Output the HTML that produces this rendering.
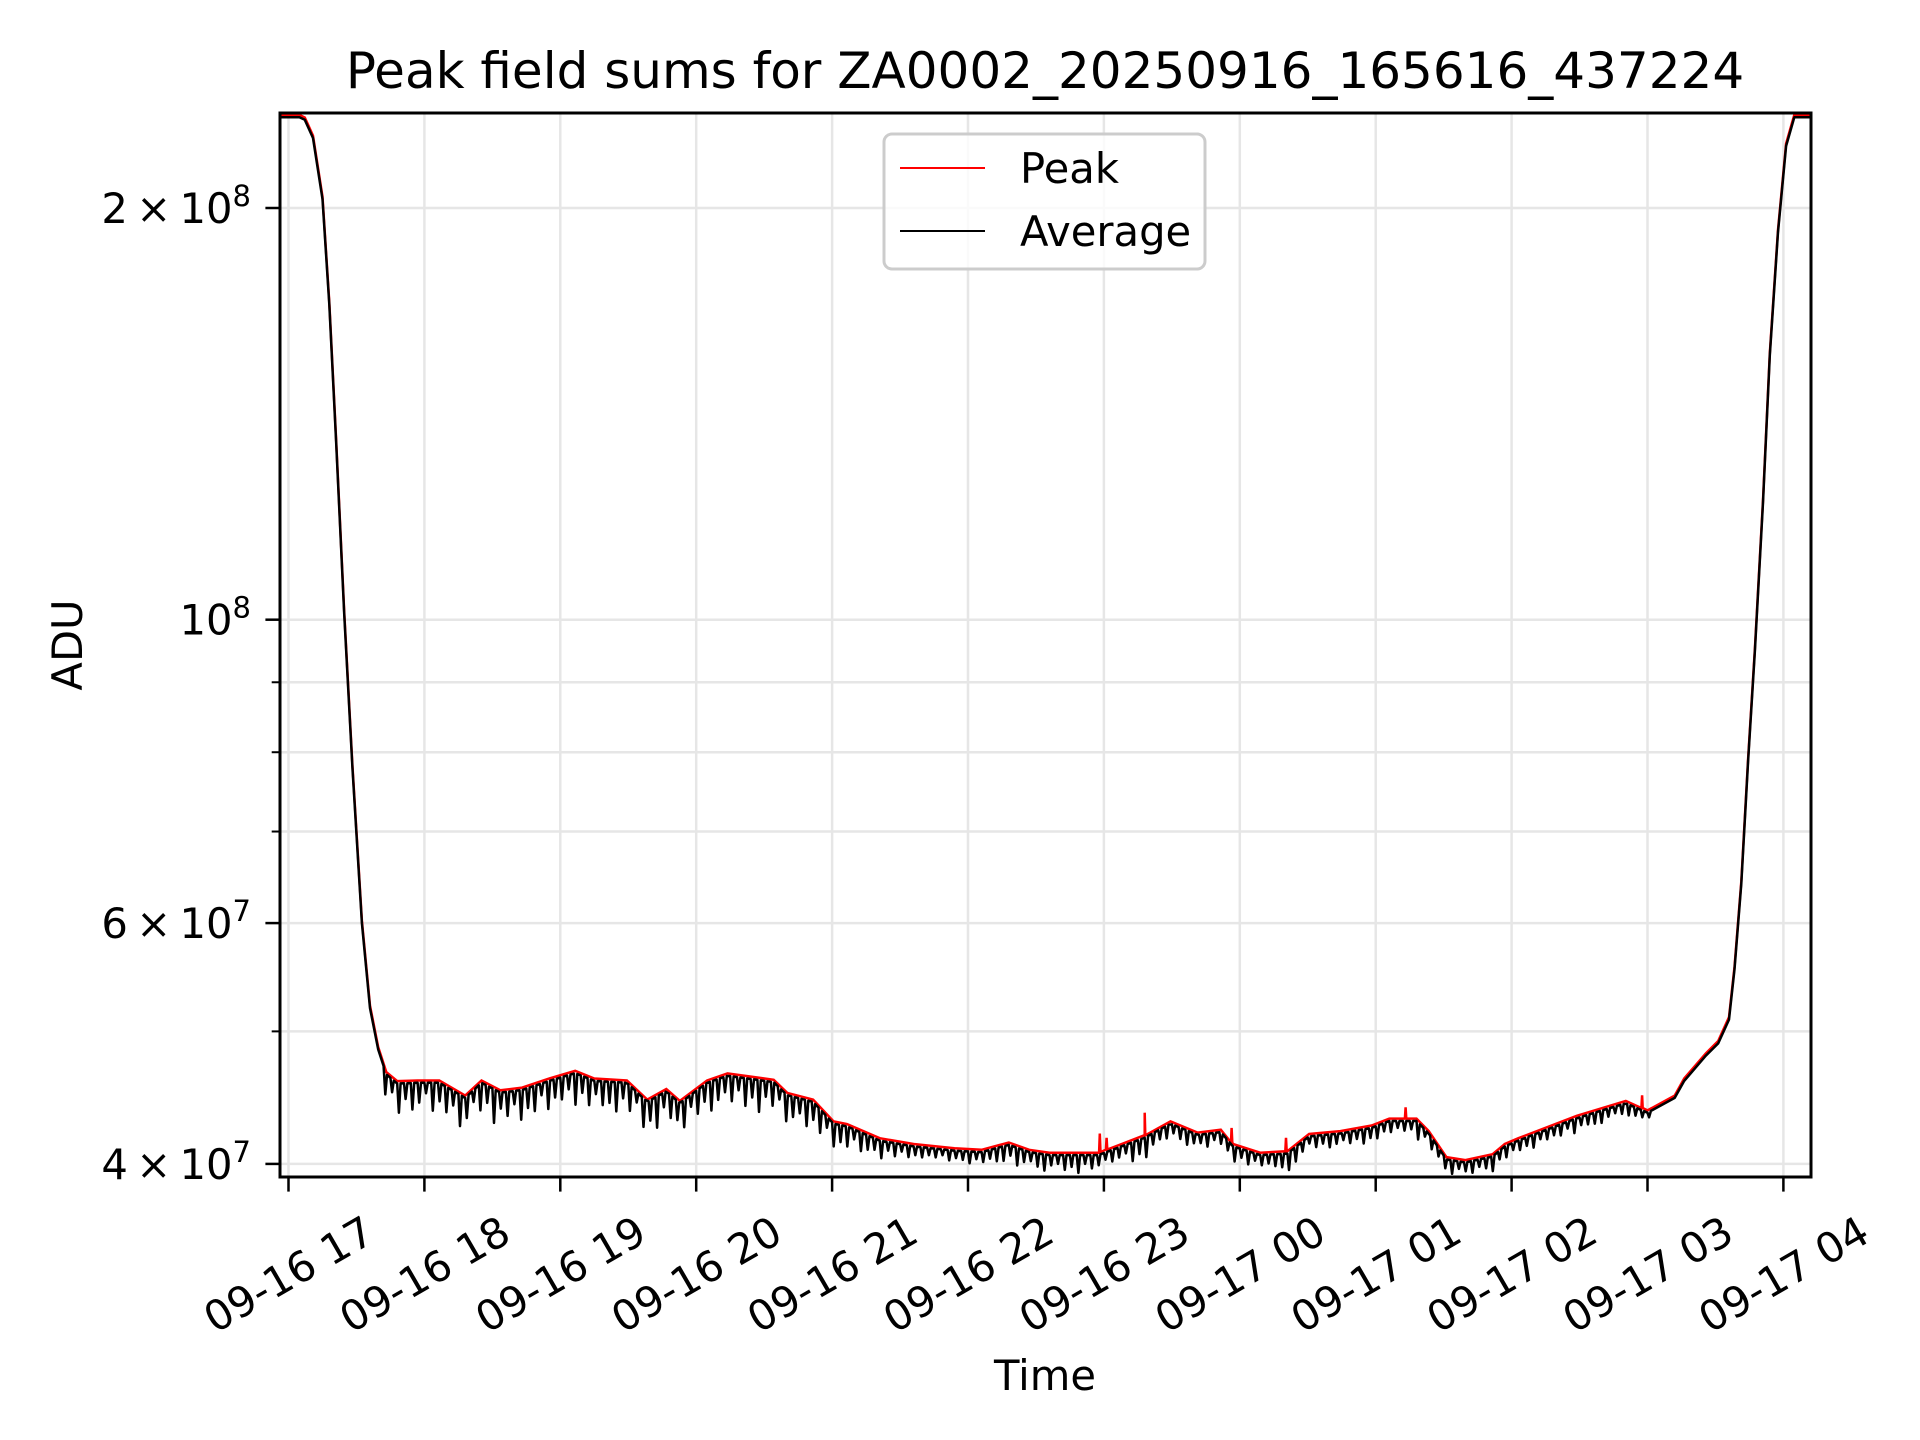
<!DOCTYPE html>
<html><head><meta charset="utf-8"><style>
html,body{margin:0;padding:0;background:#fff;}
svg{display:block;font-family:"DejaVu Sans","Liberation Sans",sans-serif;}
</style></head><body>
<svg id="chart" width="1920" height="1440" viewBox="0 0 1920 1440" xmlns="http://www.w3.org/2000/svg">
<rect width="1920" height="1440" fill="#fff"/>
<g id="grid"></g>
<g id="series"></g>
<rect x="280" y="113" width="1531" height="1064" fill="none" stroke="#000" stroke-width="3"/>
<g id="axes"></g>
<text x="1045" y="88" font-size="50" text-anchor="middle">Peak field sums for ZA0002_20250916_165616_437224</text>
<text x="1045" y="1390" font-size="41.7" text-anchor="middle">Time</text>
<text x="82" y="645" font-size="41.7" text-anchor="middle" transform="rotate(-90 82 645)">ADU</text>
<g>
<rect x="884" y="134" width="321" height="135" rx="8" fill="#fff" fill-opacity="0.8" stroke="#ccc" stroke-width="3"/>
<line x1="900" y1="168" x2="985" y2="168" stroke="#f00" stroke-width="2"/>
<text x="1020" y="183" font-size="41.7">Peak</text>
<line x1="900" y1="231" x2="985" y2="231" stroke="#000" stroke-width="2"/>
<text x="1020" y="246" font-size="41.7">Average</text>
</g>
</svg>
<script>
// hours since 09-16 17:00 ; values in units of 1e7 ADU
const avgHours = [-0.1,0.0,0.08,0.12,0.18,0.25,0.30,0.35,0.41,0.47,0.54,0.60,0.66,0.72,0.80,0.95,1.11,1.30,1.42,1.56,1.72,1.92,2.11,2.25,2.49,2.64,2.78,2.88,3.08,3.23,3.57,3.67,3.86,4.01,4.11,4.35,4.6,4.9,5.1,5.3,5.45,5.6,5.96,6.30,6.49,6.69,6.86,6.95,7.15,7.35,7.51,7.74,7.97,8.10,8.30,8.39,8.52,8.66,8.86,8.95,9.05,9.48,9.84,10.0,10.2,10.27,10.43,10.52,10.60,10.64,10.69,10.74,10.79,10.85,10.90,10.96,11.02,11.08,11.15,11.3];
const avgValues = [23.3,23.3,23.3,23.2,22.5,20.3,17.0,13.5,10.1,7.8,6.0,5.2,4.85,4.65,4.58,4.585,4.585,4.47,4.585,4.51,4.53,4.6,4.66,4.60,4.585,4.44,4.52,4.43,4.585,4.64,4.59,4.49,4.44,4.28,4.26,4.16,4.12,4.09,4.08,4.13,4.08,4.06,4.06,4.18,4.28,4.2,4.22,4.12,4.06,4.07,4.19,4.21,4.25,4.30,4.30,4.21,4.03,4.01,4.05,4.12,4.16,4.32,4.43,4.36,4.47,4.6,4.80,4.90,5.10,5.55,6.41,7.88,9.49,12.18,15.6,19.2,22.2,23.3,23.3,23.3];
// downward noise excursions of the average, every 0.05 h from 0.70 h (units 1e7)
const dipStart = 0.7;
const dipValues = [
0.18,0.10,0.22,0.12,0.20,0.15,0.08,0.21,0.14,0.19,0.11,0.23,0.16,0.09,0.20,0.13,0.25,0.12,0.18,0.10,
0.22,0.15,0.19,0.09,0.21,0.14,0.17,0.11,0.24,0.13,0.20,0.10,0.18,0.16,0.22,0.12,0.19,0.08,0.21,0.15,
0.23,0.11,0.17,0.14,0.20,0.09,0.18,0.13,0.22,0.16,0.12,0.19,0.10,0.21,0.14,0.24,0.12,0.18,0.09,0.20,
0.15,0.11,0.19,0.13,0.17,0.08,0.16,0.12,0.14,0.07,0.13,0.10,0.08,0.12,0.06,0.09,0.05,0.08,0.06,0.07,
0.05,0.06,0.04,0.07,0.05,0.06,0.08,0.05,0.07,0.06,0.09,0.10,0.07,0.12,0.08,0.06,0.09,0.11,0.07,0.06,
0.10,0.08,0.12,0.06,0.09,0.07,0.05,0.08,0.07,0.06,0.13,0.10,0.14,0.08,0.07,0.09,0.06,0.08,0.10,0.07,
0.06,0.09,0.05,0.08,0.07,0.10,0.06,0.09,0.05,0.07,0.06,0.08,0.09,0.12,0.10,0.07,0.05,0.08,0.06,0.09,
0.07,0.05,0.08,0.06,0.10,0.07,0.09,0.06,0.08,0.05,0.07,0.06,0.12,0.05,0.08,0.06,0.07,0.09,0.05,0.06,
0.08,0.05,0.07,0.10,0.06,0.08,0.05,0.07,0.06,0.09,0.05,0.07,0.06,0.08,0.05,0.10,0.06,0.07,0.08,0.09,
0.06,0.05,0.07,0.08,0.06,0.05,0.04];
const spikeHours = [5.97,6.02,6.30,6.94,7.34,8.22,9.96];
const spikeValues = [4.21,4.18,4.36,4.25,4.18,4.40,4.49];
const xTickLabels = ["09-16 17","09-16 18","09-16 19","09-16 20","09-16 21","09-16 22","09-16 23","09-17 00","09-17 01","09-17 02","09-17 03","09-17 04"];
const yMajorTicks = [1e8];
const yMinorTicks = [5e7,6e7,7e7,8e7,9e7,2e8];
const yLabeledTicks = [4e7,6e7,1e8,2e8];
const yTickLabelBase = ["4","6","","2"];
const yTickLabelExp = ["7","7","8","8"];

const NS = "http://www.w3.org/2000/svg";
const L = 280, R = 1811, T = 113, B = 1177;
function xs(h){ return 288.5 + h * 135.9; }
function ys(v){ return 208 + (Math.log10(2e8) - Math.log10(v)) * 1367.6; }
function mk(tag, attrs, parent){ const e = document.createElementNS(NS, tag); for (const k in attrs) e.setAttribute(k, attrs[k]); parent.appendChild(e); return e; }
function interpAvg(h){
  for (let i = 0; i < avgHours.length - 1; i++) {
    if (h >= avgHours[i] && h <= avgHours[i+1]) {
      const f = (h - avgHours[i]) / (avgHours[i+1] - avgHours[i]);
      return avgValues[i] + f * (avgValues[i+1] - avgValues[i]);
    }
  }
  return avgValues[avgValues.length - 1];
}
const grid = document.getElementById('grid');
const axes = document.getElementById('axes');
const series = document.getElementById('series');
const allY = yMajorTicks.concat(yMinorTicks, [4e7]);
allY.forEach(v => {
  const y = ys(v);
  const g = mk('line', {x1:L, x2:R, y1:y, y2:y, stroke:'#e6e6e6', 'stroke-width':2.5}, grid);
  
  
  const major = yLabeledTicks.indexOf(v) >= 0;
  const t = mk('line', {x1:L - (major ? 14.6 : 8.3), x2:L, y1:y, y2:y, stroke:'#000', 'stroke-width':major ? 2.5 : 2}, axes);
  
  
});
yLabeledTicks.forEach((v, i) => {
  const y = ys(v);
  const tx = mk('text', {x:L - 29, y:y + 15, 'font-size':41.7, 'text-anchor':'end'}, axes);
  
  
  const pre = yTickLabelBase[i] ? yTickLabelBase[i] + '\u2009\u00d7\u200910' : '10';
  tx.appendChild(document.createTextNode(pre));
  const sp = mk('tspan', {dy:-17, 'font-size':29}, tx);
  sp.textContent = yTickLabelExp[i];
});
xTickLabels.forEach((lab, i) => {
  const x = xs(i);
  const g = mk('line', {x1:x, x2:x, y1:T, y2:B, stroke:'#e6e6e6', 'stroke-width':2.5}, grid);
  
  
  const t = mk('line', {x1:x, x2:x, y1:B, y2:B + 14.6, stroke:'#000', 'stroke-width':2.5}, axes);
  
  
  const cy = 1274;
  const tx = mk('text', {x:x, y:cy + 15, 'font-size':41.7, 'text-anchor':'middle', transform:'rotate(-30 ' + x + ' ' + cy + ')'}, axes);
  
  
  tx.textContent = lab;
});
const clip = mk('clipPath', {id:'plotclip'}, series);
mk('rect', {x:L, y:T, width:R - L, height:B - T}, clip);
let peakPts = [];
avgHours.forEach((h, i) => peakPts.push([h, avgValues[i] * 1.004]));
spikeHours.forEach((h, i) => { peakPts.push([h - 0.005, interpAvg(h) * 1.004]); peakPts.push([h, spikeValues[i]]); peakPts.push([h + 0.005, interpAvg(h) * 1.004]); });
peakPts.sort((a, b) => a[0] - b[0]);
const peak = mk('polyline', {points:peakPts.map(p => xs(p[0]).toFixed(1) + ',' + ys(p[1] * 1e7).toFixed(1)).join(' '), fill:'none', stroke:'#f00', 'stroke-width':2.5, 'clip-path':'url(#plotclip)'}, series);


let avgPts = [];
avgHours.forEach((h, i) => { if (h < dipStart) avgPts.push([h, avgValues[i]]); });
dipValues.forEach((d, i) => {
  const h = dipStart + i * 0.05;
  avgPts.push([h, interpAvg(h)]);
  avgPts.push([h + 0.012, interpAvg(h + 0.012) - d]);
  avgPts.push([h + 0.025, interpAvg(h + 0.025)]);
});
const dipEnd = dipStart + dipValues.length * 0.05;
avgHours.forEach((h, i) => { if (h >= dipEnd) avgPts.push([h, avgValues[i]]); });
const avg = mk('polyline', {points:avgPts.map(p => xs(p[0]).toFixed(1) + ',' + ys(p[1] * 1e7).toFixed(1)).join(' '), fill:'none', stroke:'#000', 'stroke-width':2.5, 'stroke-linejoin':'round', 'clip-path':'url(#plotclip)'}, series);


</script>
</body></html>
